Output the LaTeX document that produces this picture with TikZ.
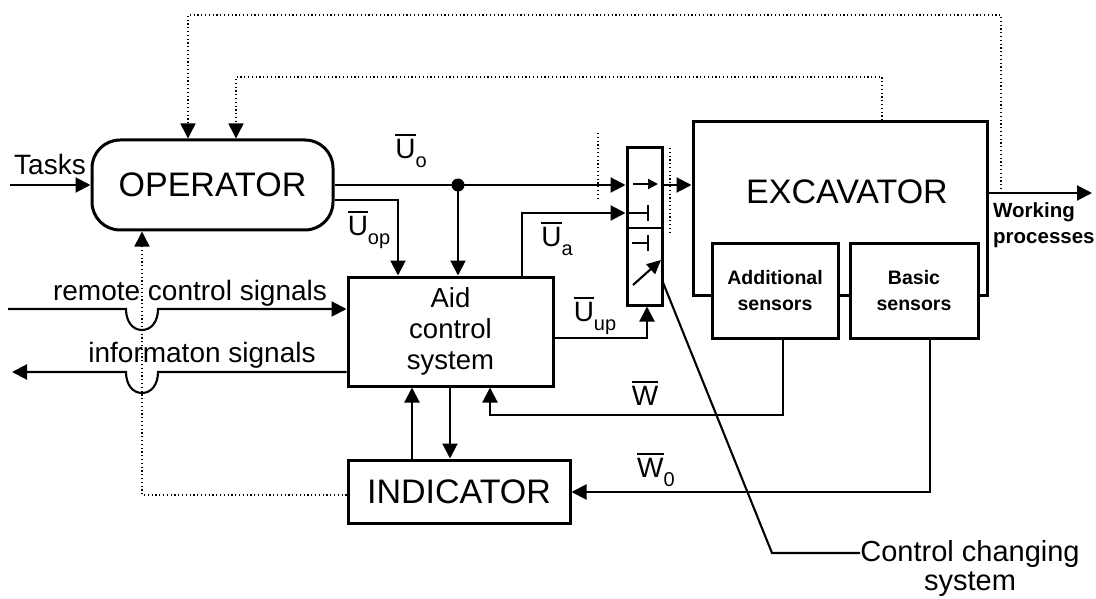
\documentclass[tikz,border=0pt]{standalone}
\usepackage{fontspec}
\setmainfont{Liberation Sans}
\usetikzlibrary{arrows.meta}
\newcommand\ovl[1]{\leavevmode\vbox{\hrule height 1.8pt\kern 3pt\hbox{#1}}}
\newcommand\subs[1]{\raisebox{-0.35em}{\fontsize{20}{20}\selectfont #1}}
\begin{document}
\begin{tikzpicture}[x=1pt,y=-1pt,
  box/.style={draw,line width=3pt,inner sep=0pt,align=center},
  conn/.style={line width=2.1pt},
  arr/.style={conn,-{Triangle[length=15pt,width=15pt]}},
  dots/.style={line width=1.5pt,dash pattern=on 1.2pt off 2.6pt},
  darr/.style={dots,-{Triangle[length=15pt,width=15pt]}},
  big/.style={font=\fontsize{34}{38}\selectfont},
  mid/.style={font=\fontsize{28}{32}\selectfont,inner sep=0pt},
  sml/.style={font=\bfseries\fontsize{19.5}{26}\selectfont,inner sep=0pt},
  lbl/.style={font=\fontsize{28}{30}\selectfont,inner sep=0pt},
]
\useasboundingbox (0,0) rectangle (1096,599);
% blocks
\node[box,big,rounded corners=28pt,minimum width=241pt,minimum height=90pt] (op) at (212.5,185) {OPERATOR};
\node[box,minimum width=294pt,minimum height=173pt] (exc) at (840,208.5) {};
\node[big] (excl) at (847,192) {EXCAVATOR};
\node[box,sml,fill=white,minimum width=126pt,minimum height=95pt] (adds) at (775,290.5) {Additional\\sensors};
\node[box,sml,fill=white,minimum width=128pt,minimum height=95pt] (bas) at (914,290.5) {Basic\\sensors};
\node[box,minimum width=205pt,minimum height=109pt,font=\fontsize{27.5}{31}\selectfont] (aid) at (450.5,331.5) {Aid\\control\\system};
\node[box,big,minimum width=222pt,minimum height=63pt] (ind) at (459,491.5) {INDICATOR};
\node[box,minimum width=35pt,minimum height=157pt] (sw) at (644.5,226.5) {};
% switch internals
\draw[line width=2.6pt] (sw.west |- 0,228) -- (sw.east |- 0,228);
\draw[conn,-{Triangle[length=10pt,width=10pt]}] (633,184) -- (658,184);
\draw[conn] (627,213) -- (648,213) (648,205) -- (648,221);
\draw[conn] (632,243) -- (648,243) (648,235) -- (648,251);
\draw[conn,-{Triangle[length=14pt,width=13pt]}] (633,285) -- (661,260);
% texts
\node[mid,anchor=base] (tasks) at (50,175) {Tasks};
\node[mid,anchor=base] (rcs) at (190,300) {remote control signals};
\node[mid,anchor=base] (ifs) at (202,362) {informaton signals};
\node[sml,anchor=west,align=left,font=\bfseries\fontsize{20.5}{26}\selectfont] (wpl) at (993,225) {Working\\processes};
\node[mid,align=center,font=\fontsize{29}{29}\selectfont] (ccl) at (970,568) {Control changing\\system};
\node[lbl] (luo) at (411,151) {\ovl{U}\subs{o}};
\node[lbl] (luop) at (369,230) {\ovl{U}\subs{op}};
\node[lbl] (lua) at (557,239) {\ovl{U}\subs{a}};
\node[lbl] (luup) at (595,316) {\ovl{U}\subs{up}};
\node[lbl] (lw) at (645,393) {\ovl{W}};
\node[lbl] (lw0) at (656,470) {\ovl{W}\subs{0}};
% coordinates
\coordinate (tin) at (10,185);
\coordinate (dot) at (458,185);
\coordinate (uop) at (398,200);
\coordinate (ua) at (522,213);
\coordinate (uup) at (647,338);
\coordinate (wp) at (1092,193);
\coordinate (rin) at (8,309);
\coordinate (iout) at (12,372);
\coordinate (dd) at (142,495);
\coordinate (t1a) at (188,15);
\coordinate (t1b) at (1001,15);
\coordinate (t1c) at (1001,193);
\coordinate (t2a) at (236,77);
\coordinate (t2b) at (882,77);
\coordinate (w1) at (783,415);
\coordinate (w2) at (490,415);
\coordinate (w01) at (930,492);
\coordinate (ai1) at (412,420);
\coordinate (ai2) at (450,420);
\coordinate (cc0) at (662,280);
\coordinate (cc1) at (772,553);
% connectors
\draw[arr] (tin) -- (op.west);
\draw[arr] (op.east) -- (sw.west |- op.east);
\fill (dot) circle (6.5pt);
\draw[arr] (dot) -- (dot |- aid.north);
\draw[arr] (op.east |- uop) -- (uop) -- (uop |- aid.north);
\draw[arr] (aid.north -| ua) -- (ua) -- (sw.west |- ua);
\draw[arr] (aid.east |- uup) -- (uup) -- (uup |- sw.south);
\draw[arr] (sw.east |- op.east) -- (exc.west |- op.east);
\draw[arr] (exc.east |- wp) -- (wp);
\draw[arr] (rin) -- (126,309) .. controls (126,322) and (133,330) .. (142,330) .. controls (151,330) and (158,322) .. (158,309) -- (aid.west |- rin);
\draw[arr] (aid.west |- iout) -- (158,372) .. controls (158,385) and (151,393) .. (142,393) .. controls (133,393) and (126,385) .. (126,372) -- (iout);
\draw[arr] (adds.south -| w1) -- (w1) -- (w2) -- (w2 |- aid.south);
\draw[arr] (bas.south -| w01) -- (w01) -- (ind.east |- w01);
\draw[arr] (ind.north -| ai1) -- (aid.south -| ai1);
\draw[arr] (aid.south -| ai2) -- (ind.north -| ai2);
\draw[conn] (cc0) -- (cc1) -- (ccl.west |- cc1);
% dotted feedback
\draw[darr] (ind.west |- dd) -- (dd) -- (dd |- op.south);
\draw[darr] (t1c) -- (t1b) -- (t1a) -- (t1a |- op.north);
\draw[darr] (exc.north -| t2b) -- (t2b) -- (t2a) -- (t2a |- op.north);
\draw[dots] (598,133) -- (598,200);
\draw[dots] (670,148) -- (670,233);
\end{tikzpicture}
\end{document}
